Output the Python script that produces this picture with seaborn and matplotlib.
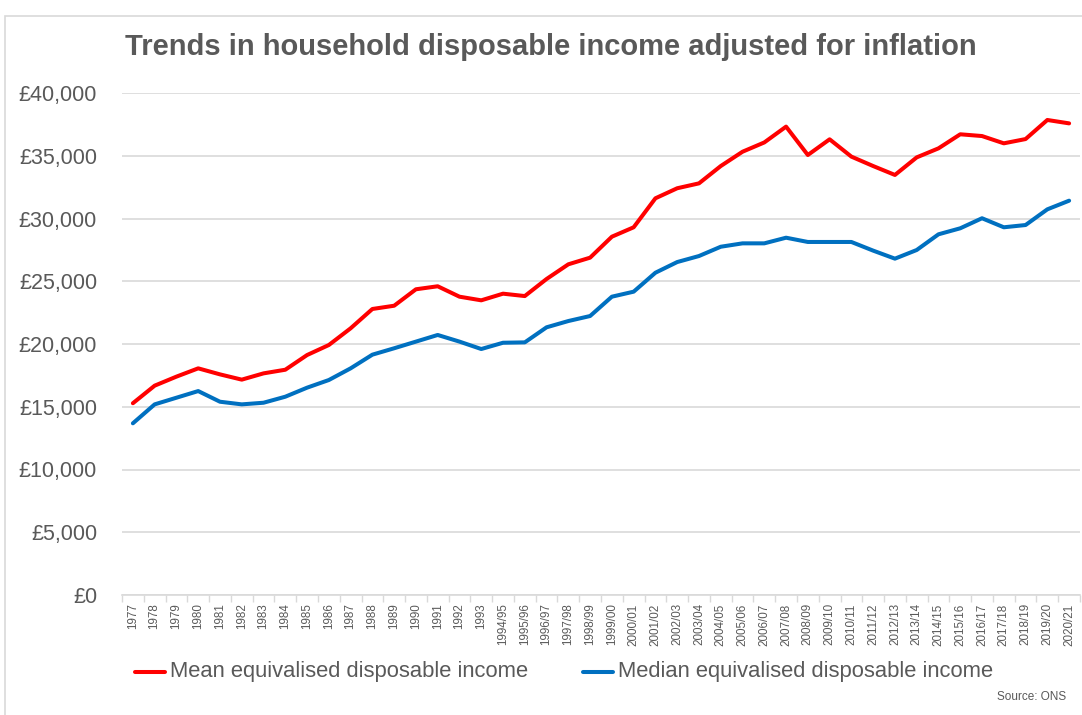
import matplotlib
matplotlib.use("Agg")
import matplotlib.pyplot as plt
import matplotlib.font_manager as fm
from matplotlib.patches import Rectangle
from matplotlib.ticker import FuncFormatter, FixedLocator
import numpy as np
import pandas as pd
import seaborn as sns

years = ["1977", "1978", "1979", "1980", "1981", "1982", "1983", "1984", "1985",
         "1986", "1987", "1988", "1989", "1990", "1991", "1992", "1993",
         "1994/95", "1995/96", "1996/97", "1997/98", "1998/99", "1999/00",
         "2000/01", "2001/02", "2002/03", "2003/04", "2004/05", "2005/06",
         "2006/07", "2007/08", "2008/09", "2009/10", "2010/11", "2011/12",
         "2012/13", "2013/14", "2014/15", "2015/16", "2016/17", "2017/18",
         "2018/19", "2019/20", "2020/21"]

mean_income = [15280, 16680, 17400, 18060, 17580, 17160, 17660, 17950, 19120,
               19920, 21250, 22790, 23050, 24360, 24600, 23770, 23480,
               24010, 23820, 25180, 26350, 26880, 28550,
               29300, 31610, 32410, 32800, 34180, 35320,
               36060, 37320, 35060, 36310, 34930, 34180,
               33470, 34870, 35590, 36710, 36570, 35990,
               36330, 37850, 37580]

median_income = [13680, 15190, 15720, 16250, 15400, 15190, 15320, 15800, 16520,
                 17130, 18060, 19150, 19660, 20190, 20720, 20190, 19600,
                 20100, 20130, 21330, 21830, 22230, 23770,
                 24170, 25680, 26530, 27010, 27750, 28020,
                 28020, 28470, 28130, 28130, 28130, 27440,
                 26800, 27490, 28740, 29220, 30020, 29300,
                 29480, 30730, 31420]

series_names = ["Mean equivalised disposable income",
                "Median equivalised disposable income"]
series_colors = ["#FF0000", "#0070C0"]

sns.set_theme(style="white")
plt.rcParams["font.family"] = ["Liberation Sans", "DejaVu Sans"]

text_grey = "#595959"
grid_grey = "#D9D9D9"

df = pd.DataFrame({
    "pos": list(range(len(years))) * 2,
    "income": mean_income + median_income,
    "series": [series_names[0]] * len(years) + [series_names[1]] * len(years),
})

fig = plt.figure(figsize=(10.82, 7.15), dpi=100)
ax = fig.add_axes([122 / 1082, 1 - 595 / 715, (1080 - 122) / 1082, 502 / 715])

sns.lineplot(data=df, x="pos", y="income", hue="series",
             palette=dict(zip(series_names, series_colors)),
             linewidth=2.9, ax=ax, legend=False)

ax.set_xlim(-0.5, len(years) - 0.5)
ax.set_ylim(0, 40000)
ax.set_yticks(np.arange(0, 40001, 5000))
ax.yaxis.set_major_formatter(FuncFormatter(lambda v, p: f"£{int(v):,}"))
ax.tick_params(axis="y", labelsize=15.5, colors=text_grey, length=0, pad=18)
ax.grid(axis="y", color=grid_grey, linewidth=1.2)
ax.grid(axis="x", visible=False)

ax.set_xticks(range(len(years)))
ax.set_xticklabels(years, rotation=90, fontsize=8.4, color=text_grey)
ax.xaxis.set_minor_locator(FixedLocator(np.arange(-0.5, len(years), 1.0)))
ax.tick_params(axis="x", which="major", length=0, pad=6)
ax.tick_params(axis="x", which="minor", length=5, color=grid_grey, width=1,
               bottom=True)

for side in ["top", "right", "left"]:
    ax.spines[side].set_visible(False)
ax.spines["bottom"].set_color(grid_grey)
ax.spines["bottom"].set_linewidth(1.2)
ax.set_xlabel("")
ax.set_ylabel("")

# chart frame
fig.patches.append(Rectangle((5 / 1082, -0.05), 1.2, 1 - 16 / 715 + 0.05,
                             transform=fig.transFigure, fill=False,
                             edgecolor=grid_grey, linewidth=1.2))

narrow = [f for f in ["Liberation Sans Narrow", "Liberation Sans"]
          if any(f == e.name for e in fm.fontManager.ttflist)]
fig.text(551 / 1082, 1 - 47 / 715,
         "Trends in household disposable income adjusted for inflation",
         ha="center", va="center", fontsize=21, fontweight="bold",
         color=text_grey, family=narrow + ["DejaVu Sans"])

# legend
leg_y = 1 - 672 / 715
for (x0, name, col) in [(135, series_names[0], series_colors[0]),
                        (583, series_names[1], series_colors[1])]:
    fig.add_artist(plt.Line2D([x0 / 1082, (x0 + 30) / 1082], [leg_y, leg_y],
                              color=col, linewidth=2.9,
                              transform=fig.transFigure))
    fig.text((x0 + 35) / 1082, leg_y, name, ha="left", va="center",
             fontsize=15.8, color=text_grey)

fig.text(1066 / 1082, 1 - 697 / 715, "Source: ONS", ha="right", va="center",
         fontsize=8.5, color=text_grey)

fig.savefig("out.png", dpi=100, facecolor="white")
